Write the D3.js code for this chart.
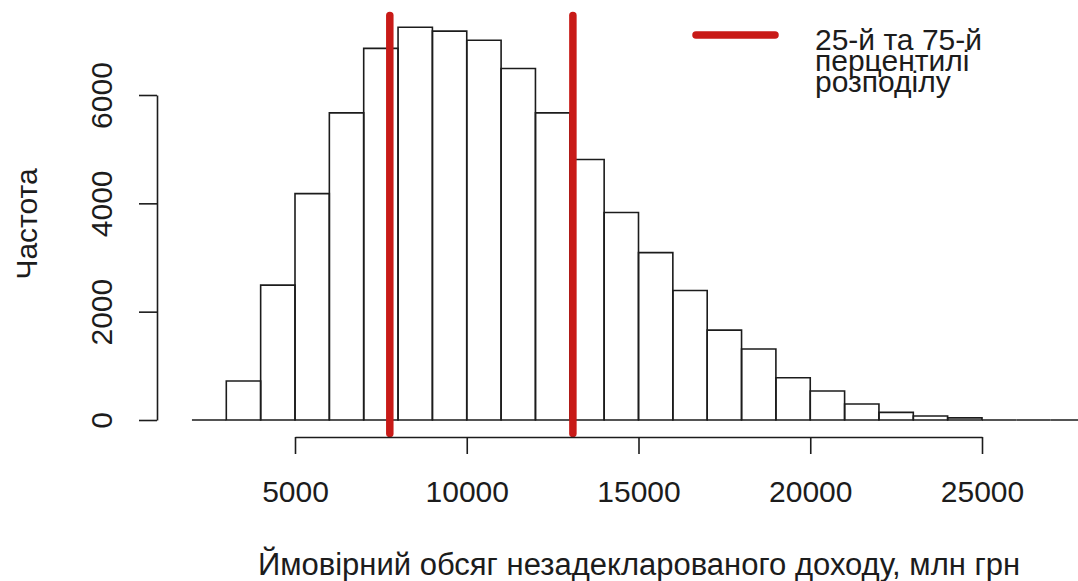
<!DOCTYPE html>
<html>
<head>
<meta charset="utf-8">
<script src="https://cdn.jsdelivr.net/npm/d3@7"></script>
<style>
  body { margin: 0; background: #fff; }
  svg { display: block; font-family: "Liberation Sans", Arial, sans-serif; }
</style>
</head>
<body>
<svg width="1078" height="581"></svg>
<script>
let width = 1078;
let height = 581;

// histogram bins (lower edges) and counts, bin width 1000
let binStarts = d3.range(2000, 29000, 1000);
let counts = [0, 720, 2490, 4180, 5670, 6860, 7250, 7180, 7010, 6490, 5670,
  4810, 3830, 3090, 2390, 1660, 1310, 780, 535, 295, 140, 75, 40, 0, 0, 0, 0];
let binWidth = 1000;

let xTicks = [5000, 10000, 15000, 20000, 25000];
let yTicks = [0, 2000, 4000, 6000];

let percentiles = [7760, 13090];
let legendLines = ['25-й та 75-й', 'перцентилі', 'розподілу'];

let xTitle = 'Ймовірний обсяг незадекларованого доходу, млн грн';
let yTitle = 'Частота';

let red = '#c81a17';
let ink = '#1c1c1c';

let x = d3.scaleLinear().domain([5000, 25000]).range([295, 982]);
let y = d3.scaleLinear().domain([0, 6000]).range([420, 95]);

let svg = d3.select('svg');

// bars as paths so zero-height bins still draw as a flat line
svg.append('g')
  .attr('id', 'bars')
  .selectAll('path')
  .data(binStarts.map((b, i) => ({ x0: b, x1: b + binWidth, n: counts[i] })))
  .enter()
    .append('path')
    .attr('d', d => `M${x(d.x0)},${y(0)}V${y(d.n)}H${x(d.x1)}V${y(0)}Z`)
    .attr('fill', 'none')
    .attr('stroke', ink)
    .attr('stroke-width', 1.6)
  ;

// percentile lines
svg.append('g')
  .attr('id', 'pct')
  .selectAll('line')
  .data(percentiles)
  .enter()
    .append('line')
    .attr('x1', d => x(d))
    .attr('x2', d => x(d))
    .attr('y1', 15.5)
    .attr('y2', 433.5)
    .attr('stroke', red)
    .attr('stroke-width', 7.5)
    .attr('stroke-linecap', 'round')
  ;

// x axis
let gx = svg.append('g')
  .attr('transform', 'translate(0,437)')
  .call(d3.axisBottom(x).tickValues(xTicks).tickFormat(d3.format('d')).tickSize(17).tickSizeOuter(0));

gx.selectAll('path, line').attr('stroke', ink).attr('stroke-width', 1.6);
gx.selectAll('text')
  .attr('y', 65)
  .attr('dy', null)
  .attr('fill', ink)
  .style('font-size', '30px')
  .style('font-family', '"Liberation Sans", Arial, sans-serif');

// y axis
let gy = svg.append('g')
  .attr('transform', 'translate(157,0)')
  .call(d3.axisLeft(y).tickValues(yTicks).tickFormat(d3.format('d')).tickSize(18).tickSizeOuter(0));

gy.selectAll('path, line').attr('stroke', ink).attr('stroke-width', 1.6);
gy.selectAll('text')
  .attr('x', null)
  .attr('dy', null)
  .attr('transform', 'translate(-45,0) rotate(-90)')
  .attr('text-anchor', 'middle')
  .attr('fill', ink)
  .style('font-size', '30px')
  .style('font-family', '"Liberation Sans", Arial, sans-serif');

// axis titles
svg.append('text')
  .attr('x', 639)
  .attr('y', 575)
  .attr('text-anchor', 'middle')
  .attr('fill', ink)
  .style('font-size', '31px')
  .text(xTitle);

svg.append('text')
  .attr('transform', 'translate(37,224) rotate(-90)')
  .attr('text-anchor', 'middle')
  .attr('fill', ink)
  .style('font-size', '30px')
  .text(yTitle);

// legend
let lg = svg.append('g').attr('id', 'legend');
lg.append('line')
  .attr('x1', 696).attr('x2', 775)
  .attr('y1', 35).attr('y2', 35)
  .attr('stroke', red)
  .attr('stroke-width', 7.5)
  .attr('stroke-linecap', 'round');

lg.selectAll('text')
  .data(legendLines)
  .enter()
    .append('text')
    .attr('x', 815)
    .attr('y', (d, i) => 50 + i * 21)
    .attr('fill', ink)
    .style('font-size', '30px')
    .text(d => d)
  ;
</script>
</body>
</html>
